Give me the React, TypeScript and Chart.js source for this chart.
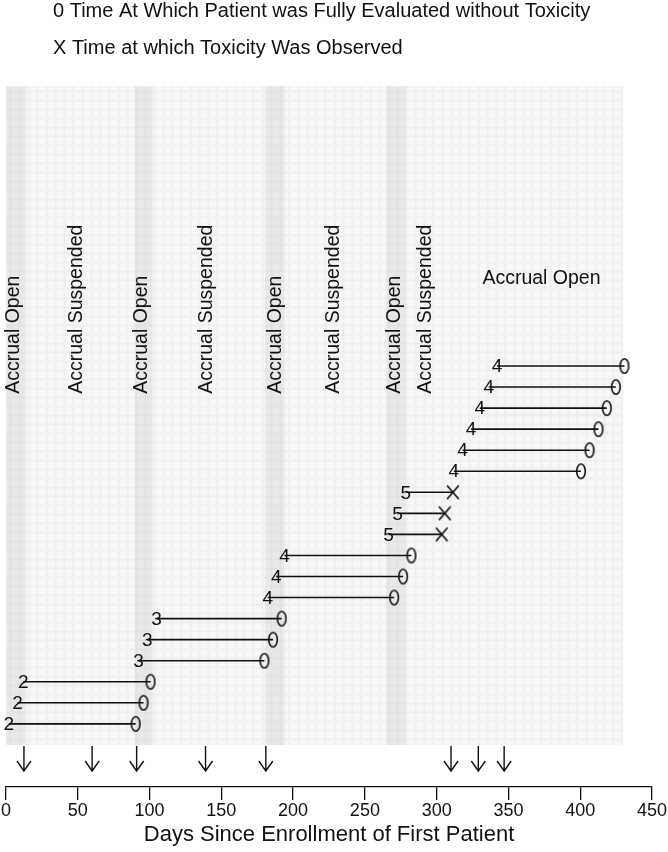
import React, { useEffect, useRef } from 'react';
import { Chart, registerables } from 'chart.js';

Chart.register(...registerables);

const FONT = '"Liberation Sans", Arial, Helvetica, sans-serif';

// Patient rows (bottom to top)
const rowIndex = [1, 2, 3, 4, 5, 6, 7, 8, 9, 10, 11, 12, 13, 14, 15, 16, 17, 18];
const doseLevel = [2, 2, 2, 3, 3, 3, 4, 4, 4, 5, 5, 5, 4, 4, 4, 4, 4, 4];
const startDay = [2, 8, 12, 92.4, 98.4, 104.9, 182.4, 188.2, 194, 266.5, 272.7, 278.5, 312, 318, 324, 330, 336.3, 342];
const endDay = [90.3, 95.8, 100.7, 180, 186, 192, 270.4, 276.6, 282.4, 303.5, 305.6, 311.3, 400.5, 406.5, 412.7, 418.5, 424.8, 430.8];
const toxicity = [false, false, false, false, false, false, false, false, false, true, true, true, false, false, false, false, false, false];

// Arrows under the panel
const arrowDays = [12.5, 60, 91, 139, 181, 310, 329, 347];

// Accrual-open bands
const openBandStart = [0, 89.6, 180.5, 265];
const openBandEnd = [13.7, 102, 194, 278.5];
const shadedEndDay = 430;

// Band labels
const verticalLabelDay = [5.3, 49.3, 94.4, 140, 187.8, 228, 271, 292];
const verticalLabelText = [
  'Accrual Open', 'Accrual Suspended', 'Accrual Open', 'Accrual Suspended',
  'Accrual Open', 'Accrual Suspended', 'Accrual Open', 'Accrual Suspended',
];
const horizontalLabelText = 'Accrual Open';

const xTickValues = [0, 50, 100, 150, 200, 250, 300, 350, 400, 450];
const xTitle = 'Days Since Enrollment of First Patient';
const legendLines = [
  '0 Time At Which Patient was Fully Evaluated without Toxicity',
  'X Time at which Toxicity Was Observed',
];

function makeEllipse(): HTMLCanvasElement {
  const c = document.createElement('canvas');
  c.width = 12; c.height = 18;
  const g = c.getContext('2d')!;
  g.strokeStyle = '#111';
  g.lineWidth = 1.6;
  g.beginPath();
  g.ellipse(6, 9, 4.3, 7.2, 0, 0, Math.PI * 2);
  g.stroke();
  return c;
}

function makeCross(): HTMLCanvasElement {
  const c = document.createElement('canvas');
  c.width = 14; c.height = 16;
  const g = c.getContext('2d')!;
  g.strokeStyle = '#111';
  g.lineWidth = 1.7;
  g.beginPath();
  g.moveTo(1.2, 1.2); g.lineTo(12.8, 14.8);
  g.moveTo(12.8, 1.2); g.lineTo(1.2, 14.8);
  g.stroke();
  return c;
}

function makePattern(ctx: CanvasRenderingContext2D, base: string, line: string, soft: string) {
  const c = document.createElement('canvas');
  c.width = 9; c.height = 9;
  const g = c.getContext('2d')!;
  g.fillStyle = base; g.fillRect(0, 0, 9, 9);
  g.fillStyle = soft; g.fillRect(0, 0, 9, 3); g.fillRect(0, 0, 3, 9);
  g.fillStyle = line; g.fillRect(0, 1, 9, 1); g.fillRect(1, 0, 1, 9);
  return ctx.createPattern(c, 'repeat');
}

export default function App() {
  const ref = useRef<HTMLCanvasElement | null>(null);

  useEffect(() => {
    const canvas = ref.current;
    if (!canvas) return;

    const segData: any[] = [];
    rowIndex.forEach((r, i) => {
      segData.push({ x: startDay[i], y: r });
      segData.push({ x: endDay[i], y: r });
      segData.push({ x: endDay[i], y: null });
    });
    const okData = rowIndex.map((r, i) => (toxicity[i] ? null : { x: endDay[i], y: r })).filter(Boolean);
    const toxData = rowIndex.map((r, i) => (toxicity[i] ? { x: endDay[i], y: r } : null)).filter(Boolean);

    const arrowShaftTop = -0.05;
    const arrowTip = -1.24;

    const bgPlugin = {
      id: 'bg',
      beforeDatasetsDraw(chart: any) {
        const { ctx, scales } = chart;
        const xs = scales.x, ys = scales.y;
        const yTop = ys.getPixelForValue(ys.max);
        const y0 = ys.getPixelForValue(0);
        ctx.save();
        const light = makePattern(ctx, '#f7f7f7', '#eeeeee', '#f2f2f2');
        const dark = makePattern(ctx, '#e9e9e9', '#e2e2e2', '#e6e6e6');
        const xl = xs.getPixelForValue(0), xr = xs.getPixelForValue(shadedEndDay);
        ctx.fillStyle = light as any;
        ctx.fillRect(xl, yTop, xr - xl, y0 - yTop);
        ctx.fillStyle = dark as any;
        openBandStart.forEach((s, i) => {
          const a = xs.getPixelForValue(s), b = xs.getPixelForValue(openBandEnd[i]);
          ctx.fillRect(a, yTop, b - a, y0 - yTop);
        });
        // band labels
        ctx.fillStyle = '#111';
        ctx.font = `19.5px ${FONT}`;
        ctx.textAlign = 'left';
        ctx.textBaseline = 'middle';
        const yStart = ys.getPixelForValue(16.68);
        verticalLabelDay.forEach((d, i) => {
          ctx.save();
          ctx.translate(xs.getPixelForValue(d), yStart);
          ctx.rotate(-Math.PI / 2);
          ctx.fillText(verticalLabelText[i], 0, 0);
          ctx.restore();
        });
        ctx.textAlign = 'center';
        ctx.fillText(horizontalLabelText, xs.getPixelForValue(373), ys.getPixelForValue(22.14));
        ctx.restore();
      },
      afterDatasetsDraw(chart: any) {
        const { ctx, scales } = chart;
        const xs = scales.x, ys = scales.y;
        ctx.save();
        ctx.fillStyle = '#111';
        ctx.font = `19px ${FONT}`;
        ctx.textAlign = 'center';
        ctx.textBaseline = 'middle';
        rowIndex.forEach((r, i) => {
          ctx.fillText(String(doseLevel[i]), xs.getPixelForValue(startDay[i]), ys.getPixelForValue(r) + 1);
        });
        // arrows
        ctx.strokeStyle = '#111';
        ctx.lineWidth = 1.4;
        arrowDays.forEach((d) => {
          const x = xs.getPixelForValue(d);
          const t = ys.getPixelForValue(arrowShaftTop);
          const b = ys.getPixelForValue(arrowTip);
          ctx.beginPath();
          ctx.moveTo(x, t); ctx.lineTo(x, b);
          ctx.moveTo(x - 7, b - 10); ctx.lineTo(x, b); ctx.lineTo(x + 7, b - 10);
          ctx.stroke();
        });
        ctx.restore();
      },
      afterDraw(chart: any) {
        const { ctx } = chart;
        ctx.save();
        ctx.fillStyle = '#111';
        ctx.font = `20px ${FONT}`;
        ctx.textAlign = 'left';
        ctx.textBaseline = 'middle';
        ctx.fillText(legendLines[0], 53, 11);
        ctx.fillText(legendLines[1], 53, 48);
        ctx.restore();
      },
    };

    const chart = new Chart(canvas, {
      type: 'scatter',
      data: {
        datasets: [
          {
            label: 'follow-up',
            data: segData,
            showLine: true,
            spanGaps: false,
            borderColor: '#111',
            borderWidth: 1.6,
            pointRadius: 0,
            pointHoverRadius: 0,
          } as any,
          {
            label: 'evaluated',
            data: okData,
            pointStyle: makeEllipse() as any,
            pointRadius: 5,
          },
          {
            label: 'toxicity',
            data: toxData,
            pointStyle: makeCross() as any,
            pointRadius: 5,
          },
        ],
      },
      options: {
        animation: false,
        responsive: false,
        devicePixelRatio: 1,
        layout: { padding: { top: 86, left: 4, right: 16, bottom: 0 } },
        plugins: { legend: { display: false }, tooltip: { enabled: false } },
        scales: {
          x: {
            type: 'linear',
            min: 0,
            max: 450,
            afterBuildTicks: (s: any) => { s.ticks = xTickValues.map((v) => ({ value: v })); },
            ticks: { color: '#111', font: { family: FONT, size: 18 }, padding: 0, maxRotation: 0, autoSkip: false },
            grid: { drawOnChartArea: false, drawTicks: true, tickLength: 13, color: '#111', lineWidth: 1.3 },
            border: { display: true, color: '#111', width: 1.3 },
            title: { display: true, text: xTitle, color: '#111', font: { family: FONT, size: 22 }, padding: { top: 0, bottom: 4 } },
          },
          y: { type: 'linear', min: -2, max: 31.3, display: false },
        },
      },
      plugins: [bgPlugin],
    });
    return () => chart.destroy();
  }, []);

  return (
    <div style={{ position: 'absolute', left: 0, top: 0, width: 668, height: 852, background: '#fff' }}>
      <canvas ref={ref} width={668} height={852} style={{ display: 'block', width: 668, height: 852 }} />
    </div>
  );
}
